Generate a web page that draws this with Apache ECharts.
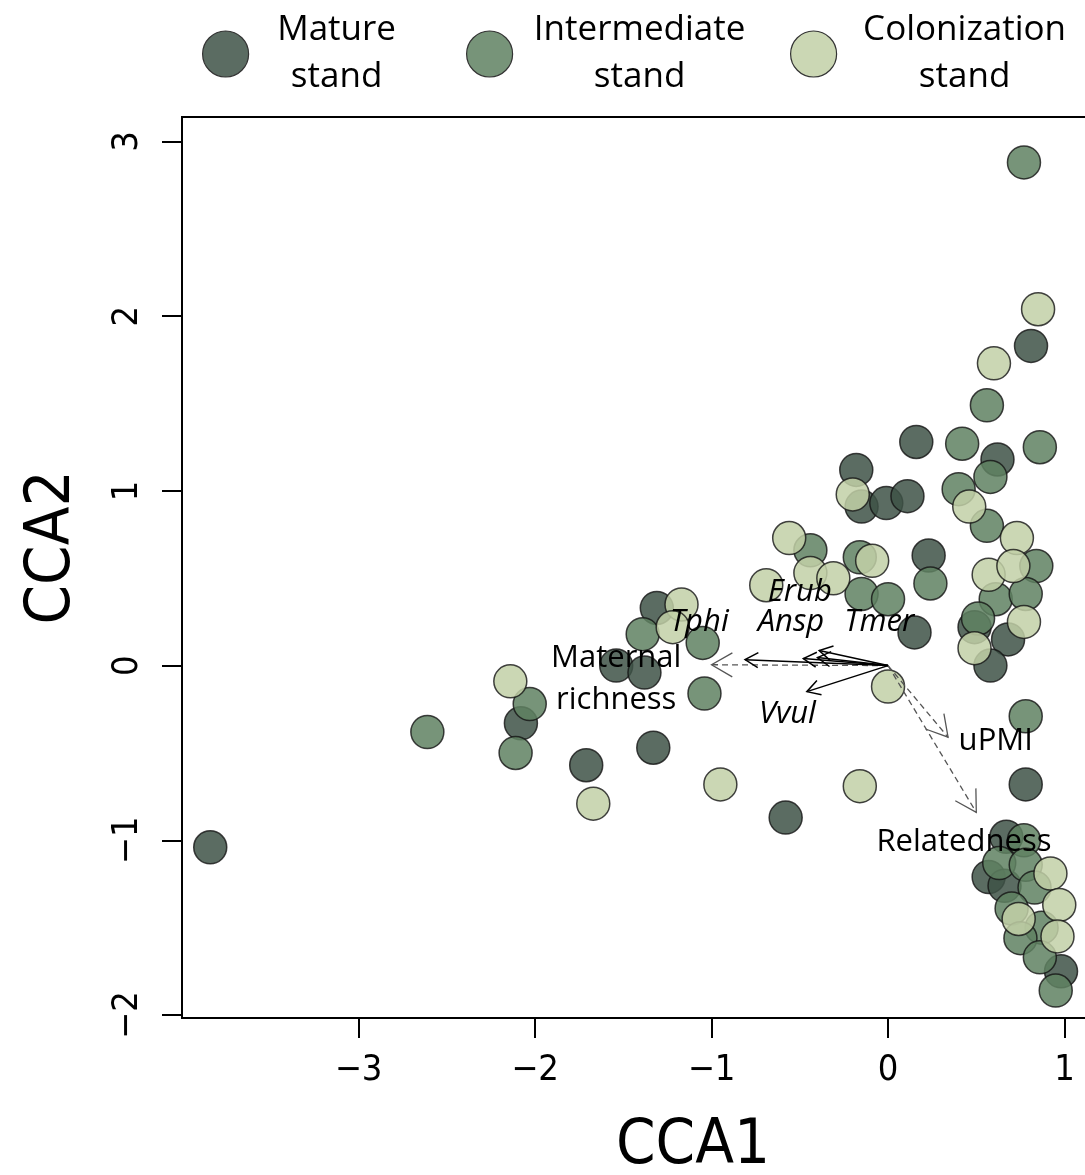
<!DOCTYPE html>
<html>
<head>
<meta charset="utf-8">
<script src="https://cdn.jsdelivr.net/npm/echarts@6/dist/echarts.min.js"></script>
<style>
html,body{margin:0;padding:0;background:#fff;}
#chart{width:1085px;height:1175px;}
</style>
</head>
<body>
<div id="chart"></div>
<script>
// ---- data ----
const matureX = [0.81, 0.16, 0.62, -0.18, -0.15, -0.01, 0.11, 0.23, 0.15, 0.49, 0.68, 0.58, 0.78, -3.84, -2.08, -1.71, -1.54, -1.38, -1.33, -1.31, -0.58, 0.67, 0.57, 0.66, 0.98];
const matureY = [1.83, 1.28, 1.18, 1.12, 0.91, 0.93, 0.97, 0.63, 0.19, 0.22, 0.15, 0.00, -0.68, -1.04, -0.33, -0.57, 0.00, -0.04, -0.47, 0.33, -0.87, -0.98, -1.21, -1.26, -1.75];

const interX = [0.77, 0.56, 0.42, 0.86, 0.58, 0.40, 0.56, -0.44, -0.16, -0.15, 0.00, 0.24, 0.84, 0.61, 0.78, 0.51, 0.78, -2.61, -2.03, -2.11, -1.39, -1.05, -1.04, 0.77, 0.63, 0.78, 0.83, 0.70, 0.87, 0.75, 0.86, 0.95];
const interY = [2.88, 1.49, 1.27, 1.25, 1.08, 1.01, 0.80, 0.66, 0.62, 0.41, 0.38, 0.47, 0.57, 0.38, 0.41, 0.27, -0.29, -0.38, -0.22, -0.50, 0.18, 0.13, -0.16, -1.00, -1.13, -1.14, -1.27, -1.39, -1.50, -1.56, -1.67, -1.86];

const colonX = [0.85, 0.60, 0.46, 0.73, -0.20, -0.56, -0.44, -0.31, -0.09, -0.69, 0.57, 0.71, 0.77, 0.49, 0.00, -1.17, -1.22, -2.14, -1.67, -0.95, -0.16, 0.92, 0.97, 0.74, 0.96];
const colonY = [2.04, 1.73, 0.91, 0.73, 0.98, 0.73, 0.53, 0.50, 0.60, 0.46, 0.52, 0.57, 0.25, 0.10, -0.12, 0.35, 0.22, -0.09, -0.79, -0.68, -0.69, -1.19, -1.37, -1.45, -1.55];

// species arrows (solid) and variable arrows (dashed)
const speciesNames = ['Tphi', 'Erub', 'Ansp', 'Tmer', 'Vvul'];
const speciesX = [-0.81, -0.39, -0.48, -0.40, -0.46];
const speciesY = [0.034, 0.086, 0.040, 0.046, -0.149];
const speciesLabelX = [-1.07, -0.50, -0.55, -0.05, -0.57];
const speciesLabelY = [0.25, 0.42, 0.25, 0.25, -0.28];

const varNames = ['Maternal\nrichness', 'uPMI', 'Relatedness'];
const varX = [-1.00, 0.34, 0.50];
const varY = [0.005, -0.41, -0.84];
const varLabelX = [-1.54, 0.61, 0.43];
const varLabelY = [-0.08, -0.435, -1.01];

const xTicks = [-3, -2, -1, 0, 1];
const yTicks = [-2, -1, 0, 1, 2, 3];

const groupNames = ['Mature stand', 'Intermediate stand', 'Colonization stand'];
// ---------------------------------------

const zip = (xs, ys) => xs.map((x, i) => [x, ys[i]]);
const minus = v => String(v).replace('-', '\u2212');

const numFont = "'Liberation Sans Narrow', 'DejaVu Sans Condensed', 'Liberation Sans', sans-serif";
const txtFont = "'Open Sans', 'Noto Sans', sans-serif";

const colors = ['rgba(62,82,70,0.85)', 'rgba(95,129,97,0.85)', 'rgba(194,208,167,0.85)'];
const legendColors = ['#5b6c62', '#779479', '#cbd7b4'];

function arrowRender(dashed) {
  return function (params, api) {
    const o = api.coord([0, 0]);
    const p = api.coord([api.value(0), api.value(1)]);
    const ang = Math.atan2(p[1] - o[1], p[0] - o[0]);
    const L = dashed ? 24 : 15;
    const a = Math.PI / 6;
    const h1 = [p[0] - L * Math.cos(ang - a), p[1] - L * Math.sin(ang - a)];
    const h2 = [p[0] - L * Math.cos(ang + a), p[1] - L * Math.sin(ang + a)];
    const stroke = dashed ? '#555' : '#000';
    return {
      type: 'group',
      children: [
        { type: 'line', shape: { x1: o[0], y1: o[1], x2: p[0], y2: p[1] },
          style: { stroke: stroke, lineWidth: dashed ? 1.3 : 1.5, lineDash: dashed ? [6, 4] : null } },
        { type: 'polyline', shape: { points: [h1, p, h2] },
          style: { stroke: stroke, lineWidth: dashed ? 1.3 : 1.5, fill: null } }
      ]
    };
  };
}

function labelRender(italic) {
  return function (params, api) {
    const p = api.coord([api.value(0), api.value(1)]);
    const names = italic ? speciesNames : varNames;
    return {
      type: 'text',
      x: p[0], y: p[1],
      style: {
        text: names[params.dataIndex],
        align: 'center', verticalAlign: 'middle',
        font: (italic ? 'italic ' : '') + '31px ' + txtFont,
        fill: '#000', lineHeight: 42
      }
    };
  };
}

function legendFor(i, left, w, line1, line2) {
  return {
    data: [groupNames[i]],
    left: left, top: 13, padding: 0,
    icon: 'circle', itemWidth: 46, itemHeight: 46, itemGap: 0,
    formatter: function () { return '{a|' + line1 + '}\n{a|' + line2 + '}'; },
    textStyle: {
      rich: { a: { width: w, align: 'center', fontSize: 35, lineHeight: 47, fontFamily: txtFont, color: '#000' } }
    },
    itemStyle: { color: legendColors[i], borderColor: '#333', borderWidth: 1.2 }
  };
}

const chart = echarts.init(document.getElementById('chart'), null, { renderer: 'canvas' });
chart.setOption({
  animation: false,
  backgroundColor: '#fff',
  legend: [
    legendFor(0, 202, 166, 'Mature', 'stand'),
    legendFor(1, 466, 244, 'Intermediate', 'stand'),
    legendFor(2, 790, 246, 'Colonization', 'stand')
  ],
  grid: {
    left: 182, top: 117, width: 1022, height: 901,
    outerBoundsMode: 'none', containLabel: false,
    show: true, borderColor: '#000', borderWidth: 2, backgroundColor: 'transparent'
  },
  xAxis: {
    type: 'value', min: -4.0, max: 1.79,
    name: 'CCA1', nameLocation: 'middle', nameGap: 97,
    nameTextStyle: { fontSize: 63, fontFamily: numFont, color: '#000' },
    axisLine: { show: false, onZero: false },
    splitLine: { show: false },
    axisTick: { show: true, length: 20, customValues: xTicks, lineStyle: { color: '#000', width: 2 } },
    axisLabel: { customValues: xTicks, formatter: minus, fontSize: 36, fontFamily: numFont, color: '#000', margin: 35 }
  },
  yAxis: {
    type: 'value', min: -2.017, max: 3.14,
    name: 'CCA2', nameLocation: 'middle', nameGap: 98, nameRotate: 90,
    nameTextStyle: { fontSize: 63, fontFamily: numFont, color: '#000', padding: [0, 0, 0, 40] },
    axisLine: { show: false, onZero: false },
    splitLine: { show: false },
    axisTick: { show: true, length: 20, customValues: yTicks, lineStyle: { color: '#000', width: 2 } },
    axisLabel: { customValues: yTicks, formatter: minus, rotate: 90, fontSize: 36, fontFamily: numFont, color: '#000', margin: 36 }
  },
  series: [
    { name: groupNames[0], type: 'scatter', data: zip(matureX, matureY), symbolSize: 33, z: 3,
      itemStyle: { color: colors[0], borderColor: 'rgba(20,20,20,0.8)', borderWidth: 1.5, opacity: 1 } },
    { name: groupNames[1], type: 'scatter', data: zip(interX, interY), symbolSize: 33, z: 3,
      itemStyle: { color: colors[1], borderColor: 'rgba(20,20,20,0.8)', borderWidth: 1.5, opacity: 1 } },
    { name: groupNames[2], type: 'scatter', data: zip(colonX, colonY), symbolSize: 33, z: 3,
      itemStyle: { color: colors[2], borderColor: 'rgba(20,20,20,0.8)', borderWidth: 1.5, opacity: 1 } },
    { type: 'custom', name: 'varArrows', data: zip(varX, varY), renderItem: arrowRender(true), z: 5, silent: true },
    { type: 'custom', name: 'spArrows', data: zip(speciesX, speciesY), renderItem: arrowRender(false), z: 5, silent: true },
    { type: 'custom', name: 'spLabels', data: zip(speciesLabelX, speciesLabelY), renderItem: labelRender(true), z: 6, silent: true },
    { type: 'custom', name: 'varLabels', data: zip(varLabelX, varLabelY), renderItem: labelRender(false), z: 6, silent: true }
  ]
});
</script>
</body>
</html>
